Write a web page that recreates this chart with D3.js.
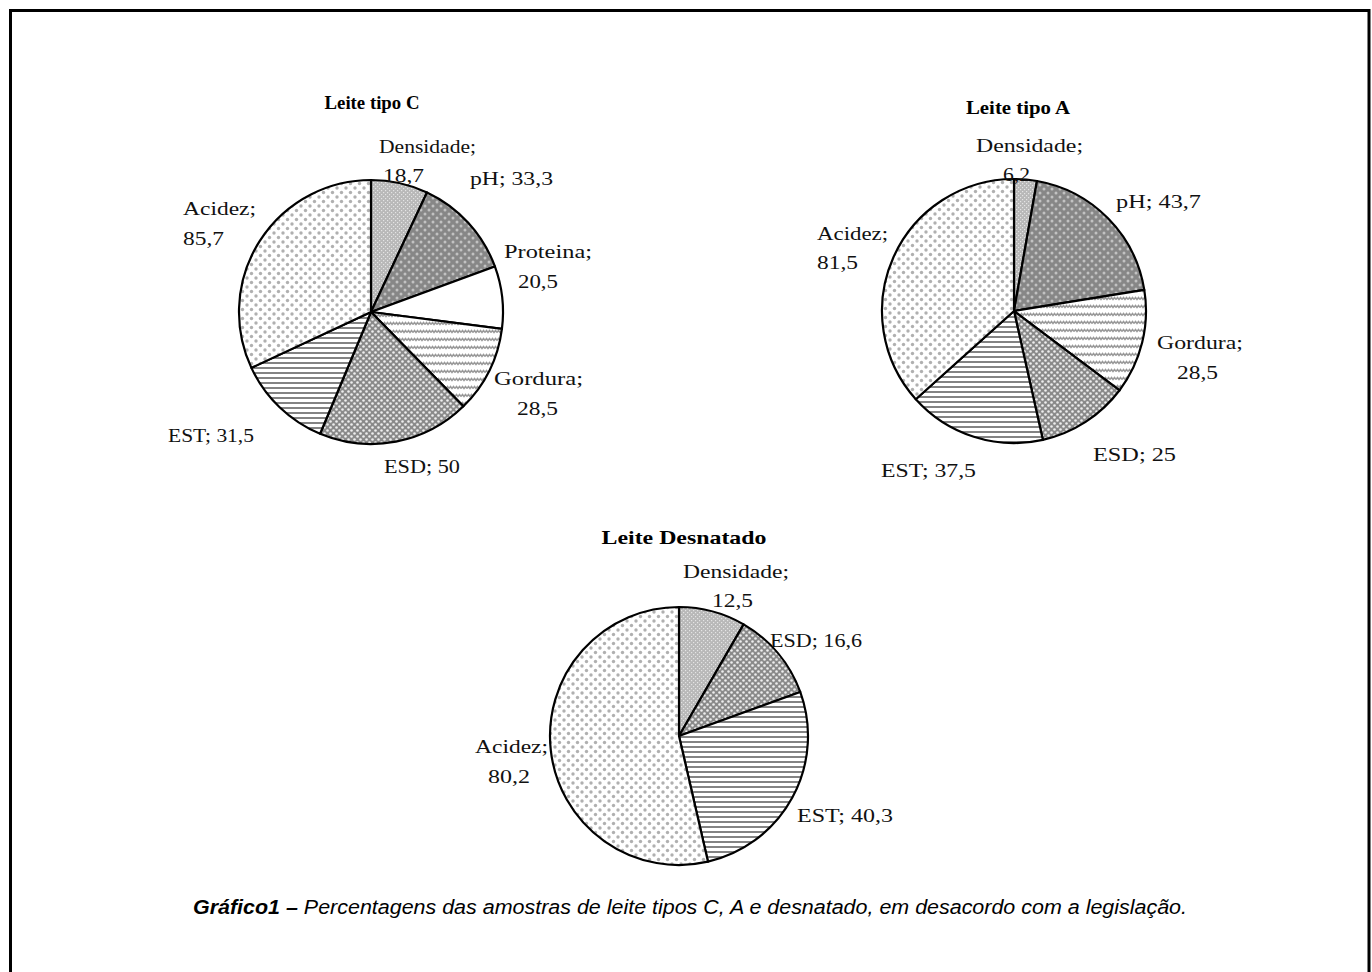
<!DOCTYPE html>
<html>
<head>
<meta charset="utf-8">
<script src="https://cdn.jsdelivr.net/npm/d3@7"></script>
<style>
  html, body { margin: 0; padding: 0; background: #fff; }
  svg { display: block; }
</style>
</head>
<body>
<svg id="chart" width="1372" height="972"></svg>
<script>
// Percentages of milk samples out of compliance, by parameter
const categoriasC = ["Densidade", "pH", "Proteina", "Gordura", "ESD", "EST", "Acidez"];
const valoresC    = [18.7, 33.3, 20.5, 28.5, 50, 31.5, 85.7];

const categoriasA = ["Densidade", "pH", "Gordura", "ESD", "EST", "Acidez"];
const valoresA    = [6.2, 43.7, 28.5, 25, 37.5, 81.5];

const categoriasD = ["Densidade", "ESD", "EST", "Acidez"];
const valoresD    = [12.5, 16.6, 40.3, 80.2];

const titulos = ["Leite tipo C", "Leite tipo A", "Leite Desnatado"];
const legenda = ["Gráfico1 –", " Percentagens das amostras de leite tipos C, A e desnatado, em desacordo com a legislação."];

// Layout of each pie and its labels (left x, centre y, drawn width of each line)
const layouts = [
  { cx: 371, cy: 312, r: 132, title: { x: 372, y: 102, w: 95 },
    labels: {
      "Densidade": [{ x: 379, y: 146, w: 97 }, { x: 383, y: 175, w: 41 }],
      "pH":        [{ x: 470, y: 178, w: 83 }],
      "Proteina":  [{ x: 504, y: 251, w: 88 }, { x: 518, y: 281, w: 40 }],
      "Gordura":   [{ x: 494, y: 378, w: 89 }, { x: 517, y: 408, w: 41 }],
      "ESD":       [{ x: 384, y: 466, w: 76 }],
      "EST":       [{ x: 168, y: 435, w: 86 }],
      "Acidez":    [{ x: 183, y: 208, w: 73 }, { x: 183, y: 238, w: 41 }]
    } },
  { cx: 1014, cy: 311, r: 132, title: { x: 1018, y: 107, w: 104 },
    labels: {
      "Densidade": [{ x: 976, y: 145, w: 107 }, { x: 1003, y: 174, w: 27 }],
      "pH":        [{ x: 1116, y: 201, w: 85 }],
      "Gordura":   [{ x: 1157, y: 342, w: 86 }, { x: 1177, y: 372, w: 41 }],
      "ESD":       [{ x: 1093, y: 454, w: 83 }],
      "EST":       [{ x: 881, y: 470, w: 95 }],
      "Acidez":    [{ x: 817, y: 233, w: 71 }, { x: 817, y: 262, w: 41 }]
    } },
  { cx: 679, cy: 736, r: 129, title: { x: 684, y: 537, w: 165 },
    labels: {
      "Densidade": [{ x: 683, y: 571, w: 106 }, { x: 712, y: 600, w: 41 }],
      "ESD":       [{ x: 770, y: 640, w: 92 }],
      "EST":       [{ x: 797, y: 815, w: 96 }],
      "Acidez":    [{ x: 475, y: 746, w: 73 }, { x: 488, y: 776, w: 42 }]
    } }
];

// Labels that sit on a single line ("pH; 33,3")
const umaLinha = new Set(["pH", "ESD", "EST"]);

const svg = d3.select("#chart");
const fmt = v => String(v).replace(".", ",");

// Fill patterns, one per parameter
const defs = svg.append("defs");
function pattern(id, w, h, build) {
  const p = defs.append("pattern").attr("id", id)
    .attr("patternUnits", "userSpaceOnUse").attr("width", w).attr("height", h);
  build(p);
}
pattern("p-Densidade", 4, 4, p => {
  p.append("rect").attr("width", 4).attr("height", 4).attr("fill", "#b8b8b8");
  p.append("rect").attr("x", 0).attr("y", 0).attr("width", 1.2).attr("height", 1.2).attr("fill", "#e4e4e4");
  p.append("rect").attr("x", 2).attr("y", 2).attr("width", 1.2).attr("height", 1.2).attr("fill", "#e4e4e4");
});
pattern("p-pH", 8, 8, p => {
  p.append("rect").attr("width", 8).attr("height", 8).attr("fill", "#878787");
  p.append("circle").attr("cx", 2).attr("cy", 2).attr("r", 1.5).attr("fill", "#c2c2c2");
  p.append("circle").attr("cx", 6).attr("cy", 6).attr("r", 1.5).attr("fill", "#c2c2c2");
});
pattern("p-Proteina", 4, 4, p => {
  p.append("rect").attr("width", 4).attr("height", 4).attr("fill", "#ffffff");
});
pattern("p-Gordura", 6, 8, p => {
  p.append("rect").attr("width", 6).attr("height", 8).attr("fill", "#ffffff");
  p.append("path").attr("d", "M0,4.5 L1.5,2.5 L3,4.5 L4.5,2.5 L6,4.5")
    .attr("fill", "none").attr("stroke", "#999").attr("stroke-width", 1.5);
});
pattern("p-ESD", 6, 6, p => {
  p.append("rect").attr("width", 6).attr("height", 6).attr("fill", "#8a8a8a");
  p.append("circle").attr("cx", 1.5).attr("cy", 1.5).attr("r", 1.3).attr("fill", "#eeeeee");
  p.append("circle").attr("cx", 4.5).attr("cy", 4.5).attr("r", 1.3).attr("fill", "#eeeeee");
});
pattern("p-EST", 5, 5, p => {
  p.append("rect").attr("width", 5).attr("height", 5).attr("fill", "#ffffff");
  p.append("rect").attr("y", 0).attr("width", 5).attr("height", 2).attr("fill", "#838383");
});
pattern("p-Acidez", 9, 9, p => {
  p.append("rect").attr("width", 9).attr("height", 9).attr("fill", "#ffffff");
  p.append("circle").attr("cx", 2).attr("cy", 2).attr("r", 1.7).attr("fill", "#b0b0b0");
  p.append("circle").attr("cx", 6.5).attr("cy", 6.5).attr("r", 1.7).attr("fill", "#b0b0b0");
});

// Outer frame (open at the bottom)
svg.append("path")
  .attr("d", "M10.5,972 L10.5,10.5 L1369,10.5 L1369,972")
  .attr("fill", "none").attr("stroke", "#000").attr("stroke-width", 3);

const series = [
  { cats: categoriasC, vals: valoresC },
  { cats: categoriasA, vals: valoresA },
  { cats: categoriasD, vals: valoresD }
];

const pie = d3.pie().sort(null).value(d => d.value).startAngle(0).endAngle(2 * Math.PI);

series.forEach((s, i) => {
  const L = layouts[i];
  const data = s.cats.map((c, k) => ({ cat: c, value: s.vals[k] }));
  const arc = d3.arc().innerRadius(0).outerRadius(L.r);
  const g = svg.append("g").attr("transform", `translate(${L.cx},${L.cy})`);

  g.selectAll("path.slice")
    .data(pie(data))
    .join("path")
    .attr("class", "slice")
    .attr("d", arc)
    .attr("fill", d => `url(#p-${d.data.cat})`)
    .attr("stroke", "#000")
    .attr("stroke-width", 2.2)
    .attr("stroke-linejoin", "round");

  // Title
  svg.append("text")
    .attr("x", L.title.x).attr("y", L.title.y).attr("dy", "0.35em")
    .attr("text-anchor", "middle")
    .attr("font-family", "'Liberation Serif', 'Times New Roman', serif")
    .attr("font-weight", "bold").attr("font-size", 19)
    .attr("textLength", L.title.w).attr("lengthAdjust", "spacingAndGlyphs")
    .text(titulos[i]);

  // Slice labels
  data.forEach(d => {
    const pos = L.labels[d.cat];
    const lines = umaLinha.has(d.cat)
      ? [`${d.cat}; ${fmt(d.value)}`]
      : [`${d.cat};`, fmt(d.value)];
    lines.forEach((t, k) => {
      svg.append("text")
        .attr("x", pos[k].x).attr("y", pos[k].y).attr("dy", "0.35em")
        .attr("font-family", "'Liberation Serif', 'Times New Roman', serif")
        .attr("font-size", 19).attr("fill", "#111")
        .attr("textLength", pos[k].w).attr("lengthAdjust", "spacingAndGlyphs")
        .text(t);
    });
  });
});

// Caption
const cap = svg.append("text")
  .attr("x", 193).attr("y", 907).attr("dy", "0.35em")
  .attr("font-family", "'Liberation Sans Narrow', 'Liberation Sans', Arial, sans-serif")
  .attr("font-style", "italic").attr("font-size", 20)
  .attr("textLength", 994).attr("lengthAdjust", "spacingAndGlyphs");
cap.append("tspan").attr("font-weight", "bold").text(legenda[0]);
cap.append("tspan").text(legenda[1]);
</script>
</body>
</html>
